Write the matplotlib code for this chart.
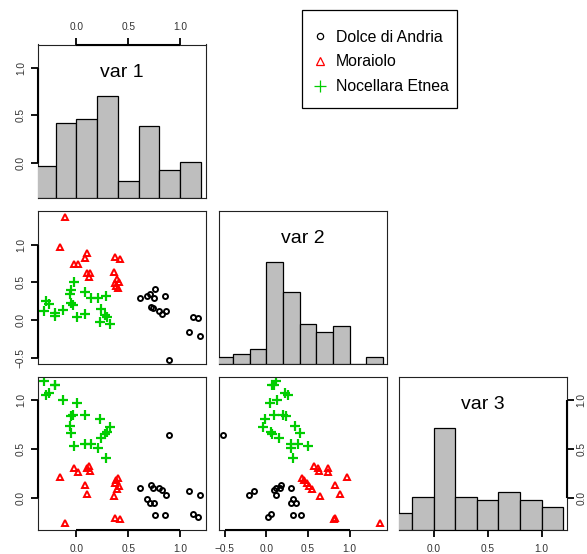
import numpy as np
import matplotlib
matplotlib.use('Agg')
import matplotlib.pyplot as plt
from matplotlib.lines import Line2D
from matplotlib.patches import Rectangle
from matplotlib.transforms import blended_transform_factory

plt.rcParams['font.family'] = ['Liberation Sans', 'DejaVu Sans']

# --- dati (var 1, var 2, var 3) per cultivar ---
dolce_v1 = [0.89, 1.09, 1.19, 1.12, 1.175, 0.61, 0.685, 0.71, 0.72, 0.735, 0.75, 0.755, 0.795, 0.83, 0.86, 0.85]
dolce_v2 = [-0.52, -0.155, -0.21, 0.05, 0.025, 0.29, 0.325, 0.35, 0.175, 0.16, 0.30, 0.42, 0.12, 0.09, 0.12, 0.32]
dolce_v3 = [0.64, 0.07, 0.035, -0.16, -0.19, 0.10, -0.005, -0.055, 0.133, 0.105, -0.055, -0.173, 0.099, 0.085, 0.031, -0.168]

moraiolo_v1 = [-0.11, -0.16, -0.02, 0.02, 0.08, 0.10, 0.12, 0.10, 0.13, 0.37, 0.42, 0.402, 0.386, 0.37, 0.412, 0.393, 0.36]
moraiolo_v2 = [1.37, 0.97, 0.74, 0.74, 0.82, 0.89, 0.57, 0.62, 0.63, 0.83, 0.81, 0.43, 0.45, 0.49, 0.51, 0.545, 0.64]
moraiolo_v3 = [-0.25, 0.21, 0.30, 0.26, 0.13, 0.04, 0.33, 0.30, 0.27, -0.20, -0.21, 0.20, 0.18, 0.15, 0.12, 0.095, 0.024]

nocellara_v1 = [-0.312, -0.296, -0.267, -0.203, -0.209, -0.129, 0.010, -0.048, -0.032, 0.084, 0.225,
                -0.064, 0.322, -0.055, 0.296, 0.277, 0.241, -0.022, 0.084, 0.145, 0.206, 0.290]
nocellara_v2 = [0.12, 0.26, 0.22, 0.063, 0.093, 0.13, 0.04, 0.23, 0.20, 0.09, -0.02,
                0.345, -0.045, 0.40, 0.05, 0.065, 0.15, 0.50, 0.38, 0.30, 0.30, 0.32]
nocellara_v3 = [1.19, 1.051, 1.068, 1.146, 1.153, 1.0, 0.966, 0.833, 0.847, 0.84, 0.799,
                0.731, 0.718, 0.66, 0.67, 0.646, 0.612, 0.524, 0.551, 0.551, 0.507, 0.408]

# istogrammi (altezze normalizzate al massimo)
hist1_breaks = [-0.4, -0.2, 0.0, 0.2, 0.4, 0.6, 0.8, 1.0, 1.2]
hist1_heights = [0.31, 0.73, 0.77, 1.0, 0.16, 0.70, 0.27, 0.35]
hist2_breaks = [-0.6, -0.4, -0.2, 0.0, 0.2, 0.4, 0.6, 0.8, 1.0, 1.2, 1.4]
hist2_heights = [0.06, 0.09, 0.14, 1.0, 0.70, 0.39, 0.31, 0.365, 0.0, 0.06]
hist3_breaks = [-0.4, -0.2, 0.0, 0.2, 0.4, 0.6, 0.8, 1.0, 1.2]
hist3_heights = [0.16, 0.32, 1.0, 0.32, 0.29, 0.37, 0.29, 0.22]

var_names = ['var 1', 'var 2', 'var 3']
var_lims = [(-0.37, 1.25), (-0.57, 1.45), (-0.32, 1.235)]
tick_vals = [[0.0, 0.5, 1.0], [-0.5, 0.0, 0.5, 1.0], [0.0, 0.5, 1.0]]
groups = ['Dolce di Andria', 'Moraiolo', 'Nocellara Etnea']

data = [
    (dolce_v1, dolce_v2, dolce_v3),
    (moraiolo_v1, moraiolo_v2, moraiolo_v3),
    (nocellara_v1, nocellara_v2, nocellara_v3),
]
hists = [(hist1_breaks, hist1_heights), (hist2_breaks, hist2_heights), (hist3_breaks, hist3_heights)]

styles = [
    dict(marker='o', mfc='none', mec='black', ms=3.6, mew=1.4),
    dict(marker='^', mfc='none', mec='#FF0000', ms=5.0, mew=1.4),
    dict(marker='+', mfc='none', mec='#00CD00', ms=6.5, mew=1.6),
]
leg_styles = [
    dict(marker='o', mfc='none', mec='black', ms=4.5, mew=0.9),
    dict(marker='^', mfc='none', mec='#FF0000', ms=6.0, mew=0.9),
    dict(marker='+', mfc='none', mec='#00CD00', ms=8.0, mew=0.9),
]

W, H = 587, 554
fig = plt.figure(figsize=(W / 100, H / 100), dpi=100)
col_x = [38, 219, 399]
row_y = [44.5, 210.5, 376.5]
pw, ph = 168, 153


def add_panel(r, c):
    return fig.add_axes([col_x[c] / W, 1 - (row_y[r] + ph) / H, pw / W, ph / H])


def axis_line(ax, side, lo, hi):
    # linea dell'asse solo tra il primo e l'ultimo tick, come in R
    if side in ('top', 'bottom'):
        tr = blended_transform_factory(ax.transData, ax.transAxes)
        y = 1 if side == 'top' else 0
        ax.plot([lo, hi], [y, y], transform=tr, color='black', lw=1.5, clip_on=False,
                solid_capstyle='butt', zorder=5)
    else:
        tr = blended_transform_factory(ax.transAxes, ax.transData)
        x = 0 if side == 'left' else 1
        ax.plot([x, x], [lo, hi], transform=tr, color='black', lw=1.5, clip_on=False,
                solid_capstyle='butt', zorder=5)


def setup(ax, xv, yv, top=False, bottom=False, left=False, right=False):
    ax.set_xlim(var_lims[xv])
    ax.set_ylim(var_lims[yv])
    for s in ax.spines.values():
        s.set_linewidth(0.8)
        s.set_color('#222222')
    ax.set_xticks(tick_vals[xv])
    ax.set_yticks(tick_vals[yv])
    ax.set_xticklabels([f'{t:.1f}'.replace('-', '\u2212') for t in tick_vals[xv]])
    ax.set_yticklabels([f'{t:.1f}'.replace('-', '\u2212') for t in tick_vals[yv]])
    ax.tick_params(axis='x', top=top, labeltop=top, bottom=bottom, labelbottom=bottom,
                   direction='out', length=4.7, width=1.3, labelsize=7.3,
                   pad=(4.3 if top else 5.6), colors='black')
    ax.tick_params(axis='y', left=left, labelleft=left, right=right, labelright=right,
                   direction='out', length=4.7, width=1.3, labelsize=7.3,
                   pad=(2.2 if right else 4.0), labelrotation=90, colors='black')
    for lbl in ax.get_yticklabels():
        lbl.set_va('center')
        lbl.set_color('#333333')
    for lbl in ax.get_xticklabels():
        lbl.set_color('#333333')
    if top:
        axis_line(ax, 'top', tick_vals[xv][0], tick_vals[xv][-1])
    if bottom:
        axis_line(ax, 'bottom', tick_vals[xv][0], tick_vals[xv][-1])
    if left:
        axis_line(ax, 'left', tick_vals[yv][0], tick_vals[yv][-1])
    if right:
        axis_line(ax, 'right', tick_vals[yv][0], tick_vals[yv][-1])


for r in range(3):
    for c in range(r + 1):
        ax = add_panel(r, c)
        if r == c:
            # istogramma su assi gemelli con scala 0-1.5
            hx = ax.twinx()
            setup(ax, c, r, top=(r == 0), bottom=(r == 2), left=(c == 0), right=(c == 2))
            hx.set_ylim(0, 1.5)
            br, hh = hists[c]
            hx.bar(br[:-1], hh, width=np.diff(br), align='edge', color='#BEBEBE',
                   edgecolor='black', linewidth=0.9)
            hx.set_axis_off()
            ax.text(0.5, 0.82, var_names[c], transform=ax.transAxes, ha='center', va='center',
                    fontsize=14, zorder=10)
        else:
            setup(ax, c, r, bottom=(r == 2), left=(c == 0))
            for g, st in zip(data, styles):
                ax.plot(g[c], g[r], ls='none', **st)

# legenda: voci senza cornice + riquadro disegnato a parte
handles = [Line2D([], [], ls='none', **st) for st in leg_styles]
leg = fig.legend(handles, groups, loc='upper left', bbox_to_anchor=(312 / W, 1 - 29.5 / H),
                 frameon=False, fontsize=11.4, handlelength=1.0,
                 handletextpad=0.52, borderpad=0, labelspacing=0.62, borderaxespad=0)
fig.patches.append(Rectangle((302 / W, 1 - 108 / H), 155 / W, 98 / H, transform=fig.transFigure,
                             fill=False, edgecolor='black', linewidth=0.9))

fig.savefig('out.png', dpi=100)
